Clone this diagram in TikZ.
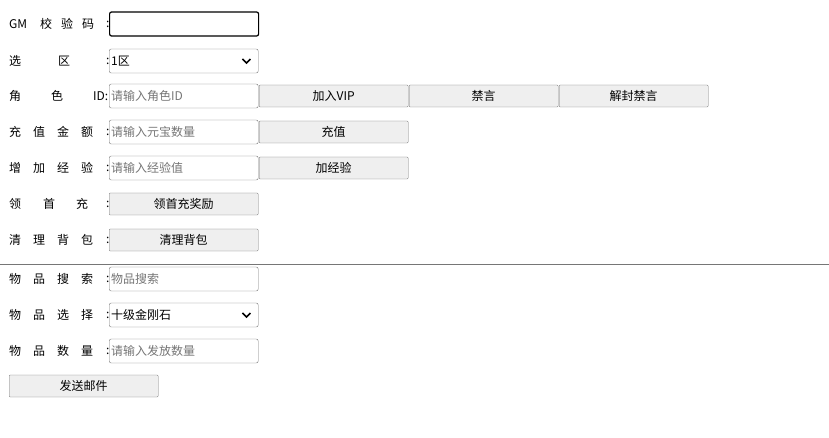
\documentclass[tikz,border=0pt]{standalone}
\usepackage{fontspec}
\setmainfont{Noto Sans CJK SC}
\usetikzlibrary{positioning,calc}
\definecolor{edge}{HTML}{767676}
\definecolor{btnfill}{HTML}{EFEFEF}
\definecolor{hint}{HTML}{757575}
\tikzset{
  lbl/.style={anchor=west,inner sep=0pt,font=\fontsize{12}{14}\selectfont},
  field/.style={draw=edge,rounded corners=2pt,minimum width=149pt,minimum height=24pt,anchor=west,inner sep=2pt,text width=145pt,align=left,font=\fontsize{12}{14}\selectfont},
  hinttext/.style={field,text=hint},
  btn/.style={draw=edge,fill=btnfill,rounded corners=1pt,minimum width=149pt,minimum height=22pt,anchor=west,inner sep=0pt,font=\fontsize{12}{14}\selectfont}
}
\begin{document}
\begin{tikzpicture}[x=1pt,y=-1pt]
  \useasboundingbox (0,0) rectangle (829,438);

  % labels
  \foreach \t/\x/\y in {GM/9/24,校/40/24,验/61/24,码/82/24,:/106/24,
      选/9/61,区/58/61,:/106/61,
      角/9/96,色/51/96,ID:/93/96,
      充/9/132,值/33/132,金/57/132,额/81/132,:/106/132,
      增/9/168,加/33/168,经/57/168,验/81/168,:/106/168,
      领/9/204,首/43/204,充/76/204,:/106/204,
      清/9/240,理/33/240,背/57/240,包/81/240,:/106/240,
      物/9/279,品/33/279,搜/57/279,索/81/279,:/106/279,
      物/9/315,品/33/315,选/57/315,择/81/315,:/106/315,
      物/9/351,品/33/351,数/57/351,量/81/351,:/106/351}
    \node[lbl] at (\x,\y) {\t};

  % inputs
  \node[field,draw=black,line width=1.2pt] (code) at (109,24) {};
  \node[field] (zone) at (109,61) {1区};
  \node[hinttext] (role) at (109,96) {请输入角色ID};
  \node[hinttext] (pay) at (109,132) {请输入元宝数量};
  \node[hinttext] (exp) at (109,168) {请输入经验值};
  \node[hinttext] (search) at (109,279) {物品搜索};
  \node[field] (item) at (109,315) {十级金刚石};
  \node[hinttext] (count) at (109,351) {请输入发放数量};
  \foreach \n in {zone,item}
    \draw[line width=1.6pt] ($(\n.east)+(-16,-2)$) -- ++(4,4) -- ++(4,-4);

  % buttons
  \node[btn] (vip) at (259,96) {加入VIP};
  \node[btn] (ban) at (409,96) {禁言};
  \node[btn] (unban) at (559,96) {解封禁言};
  \node[btn] (paybtn) at (259,132) {充值};
  \node[btn] (expbtn) at (259,168) {加经验};
  \node[btn] (first) at (109,204) {领首充奖励};
  \node[btn] (clear) at (109,240) {清理背包};
  \node[btn] (mail) at (9,386) {发送邮件};

  \draw[edge] (0,264) -- (829,264);
\end{tikzpicture}
\end{document}
